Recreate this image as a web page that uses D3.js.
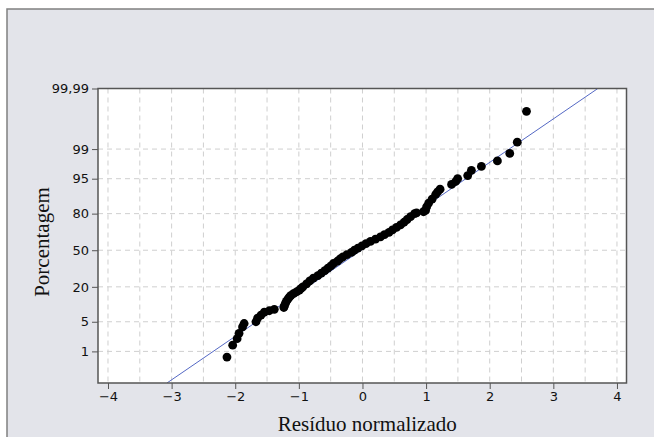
<meta charset="utf-8">
<script src="https://cdn.jsdelivr.net/npm/d3@7/dist/d3.min.js"></script>
<style>
  body { margin: 0; background: #fff; }
  .tick text { font-family: "DejaVu Sans"; font-size: 13px; fill: #111; }
  .title { font-family: "Liberation Serif"; font-size: 21px; fill: #111; }
</style>
<div id="chart"></div>
<script>
// normalized residuals (x) and the percent each point is plotted at (y)
var residuo = [
  -2.13, -2.04, -1.97, -1.94, -1.885, -1.86,
  -1.674, -1.649, -1.595, -1.543, -1.465, -1.386,
  -1.236, -1.228, -1.213, -1.197, -1.173, -1.150, -1.123, -1.079, -1.031, -0.992, -0.964, -0.937,
  -0.879, -0.828, -0.772, -0.701, -0.646, -0.591, -0.543, -0.496, -0.457, -0.394,
  -0.354, -0.307, -0.244, -0.173, -0.126, -0.071, -0.008, 0.055, 0.126, 0.205,
  0.283, 0.346, 0.417, 0.472, 0.535, 0.598, 0.654, 0.701, 0.756, 0.819,
  0.85, 0.96, 0.992, 1.008, 1.039, 1.094, 1.150, 1.181, 1.220,
  1.40, 1.465, 1.496, 1.654, 1.712, 1.869, 2.121, 2.315, 2.433, 2.578
];
var porcentagem = [
  0.7, 1.45, 2.1, 2.8, 3.9, 4.6,
  5.0, 5.9, 6.8, 7.7, 8.2, 8.7,
  9.4, 10, 11, 12, 13, 14, 15, 16, 17, 18, 19, 20,
  22, 24, 26, 28, 30, 32, 34, 36, 38, 40,
  42, 44, 46, 48, 50, 52, 54, 56, 58, 60,
  62, 64, 66, 68, 70, 72, 74, 76, 78, 80,
  80.5, 81.2, 82, 84, 86, 88, 90, 91, 92,
  93.5, 94.3, 95, 95.7, 96.7, 97.3, 98, 98.7, 99.35, 99.93
];

var xTicks = [-4, -3, -2, -1, 0, 1, 2, 3, 4];
var yTicks = [1, 5, 20, 50, 80, 95, 99, 99.99];
var yLabels = ["1", "5", "20", "50", "80", "95", "99", "99,99"];

// fitted normal reference line
var media = -0.02, desvio = 1.0;

// inverse normal cdf (Acklam) for the probability axis
function probit(p) {
  var a = [-39.69683028665376, 220.9460984245205, -275.9285104469687, 138.3577518672690, -30.66479806614716, 2.506628277459239];
  var b = [-54.47609879822406, 161.5858368580409, -155.6989798598866, 66.80131188771972, -13.28068155288572];
  var c = [-0.007784894002430293, -0.3223964580411365, -2.400758277161838, -2.549732539343734, 4.374664141464968, 2.938163982698783];
  var d = [0.007784695709041462, 0.3224671290700398, 2.445134137142996, 3.754408661907416];
  var q, r;
  if (p < 0.02425) {
    q = Math.sqrt(-2 * Math.log(p));
    return (((((c[0]*q+c[1])*q+c[2])*q+c[3])*q+c[4])*q+c[5]) / ((((d[0]*q+d[1])*q+d[2])*q+d[3])*q+1);
  } else if (p > 1 - 0.02425) {
    q = Math.sqrt(-2 * Math.log(1 - p));
    return -(((((c[0]*q+c[1])*q+c[2])*q+c[3])*q+c[4])*q+c[5]) / ((((d[0]*q+d[1])*q+d[2])*q+d[3])*q+1);
  }
  q = p - 0.5; r = q * q;
  return (((((a[0]*r+a[1])*r+a[2])*r+a[3])*r+a[4])*r+a[5])*q / (((((b[0]*r+b[1])*r+b[2])*r+b[3])*r+b[4])*r+1);
}

var W = 654, H = 437;
var plot = {left: 98, top: 88.5, right: 626.5, bottom: 383};

var svg = d3.select("#chart").append("svg")
  .attr("width", W).attr("height", H);

// grey panel with its frame
svg.append("rect")
  .attr("x", 7).attr("y", 9).attr("width", W + 10).attr("height", H + 10)
  .attr("fill", "#e3e4ea").attr("stroke", "#808080").attr("stroke-width", 1.5);

var x = d3.scaleLinear().domain([-4.157, 4.15]).range([plot.left, plot.right]);
var zTop = probit(0.9999);
var y = d3.scaleLinear().domain([-3.053, zTop]).range([plot.bottom, plot.top]);

svg.append("rect")
  .attr("x", plot.left).attr("y", plot.top)
  .attr("width", plot.right - plot.left).attr("height", plot.bottom - plot.top)
  .attr("fill", "#fff");

var clip = svg.append("clipPath").attr("id", "clip").append("rect")
  .attr("x", plot.left).attr("y", plot.top)
  .attr("width", plot.right - plot.left).attr("height", plot.bottom - plot.top);

// dashed gridlines
var gridX = d3.range(-8, 9).map(function(i) { return i / 2; });
svg.append("g").selectAll("line").data(gridX).enter().append("line")
  .attr("x1", function(d) { return x(d); }).attr("x2", function(d) { return x(d); })
  .attr("y1", plot.top).attr("y2", plot.bottom)
  .attr("stroke", "#cfcfcf").attr("stroke-dasharray", "5,4");
svg.append("g").selectAll("line").data(yTicks.slice(0, -1)).enter().append("line")
  .attr("x1", plot.left).attr("x2", plot.right)
  .attr("y1", function(d) { return y(probit(d / 100)); })
  .attr("y2", function(d) { return y(probit(d / 100)); })
  .attr("stroke", "#cfcfcf").attr("stroke-dasharray", "5,4");

// reference line
svg.append("line")
  .attr("clip-path", "url(#clip)")
  .attr("x1", x(media + desvio * y.domain()[0])).attr("y1", y(y.domain()[0]))
  .attr("x2", x(media + desvio * zTop)).attr("y2", y(zTop))
  .attr("stroke", "#5468c4").attr("stroke-width", 1);

// points
svg.append("g").selectAll("circle").data(residuo).enter().append("circle")
  .attr("cx", function(d) { return x(d); })
  .attr("cy", function(d, i) { return y(probit(porcentagem[i] / 100)); })
  .attr("r", 4.4)
  .attr("fill", "#000");

// frame of plot
svg.append("rect")
  .attr("x", plot.left).attr("y", plot.top)
  .attr("width", plot.right - plot.left).attr("height", plot.bottom - plot.top)
  .attr("fill", "none").attr("stroke", "#555").attr("stroke-width", 1.5);

// axes
var gx = svg.append("g")
  .attr("transform", "translate(0," + plot.bottom + ")")
  .call(d3.axisBottom(x).tickValues(xTicks).tickSize(6).tickPadding(3));
var gy = svg.append("g")
  .attr("transform", "translate(" + plot.left + ",0)")
  .call(d3.axisLeft(y)
    .tickValues(yTicks.map(function(p) { return probit(p / 100); }))
    .tickFormat(function(d, i) { return yLabels[i]; })
    .tickSize(6).tickPadding(3));
svg.selectAll(".domain").remove();
svg.selectAll(".tick line").attr("stroke", "#555");

svg.append("text").attr("class", "title")
  .attr("x", (plot.left + plot.right) / 2 + 5).attr("y", 431)
  .attr("text-anchor", "middle")
  .text("Resíduo normalizado");

svg.append("text").attr("class", "title")
  .attr("transform", "translate(49," + 242 + ")rotate(-90)")
  .attr("text-anchor", "middle")
  .text("Porcentagem");
</script>
